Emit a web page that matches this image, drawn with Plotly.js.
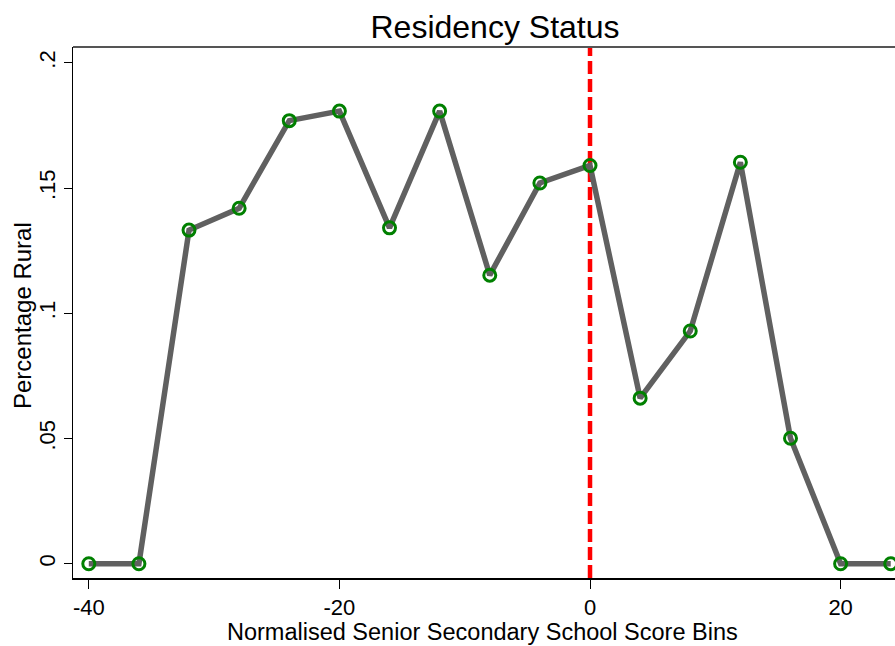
<!DOCTYPE html>
<html>
<head>
<meta charset="utf-8">
<script src="https://cdn.plot.ly/plotly-3.0.1.min.js"></script>
<style>
html, body { margin: 0; padding: 0; overflow: hidden; background: #fff; }
#chart { width: 1150px; height: 646px; }
</style>
</head>
<body>
<div id="chart"></div>
<script>
const scoreBins = [-40, -36, -32, -28, -24, -20, -16, -12, -8, -4, 0, 4, 8, 12, 16, 20, 24];
const pctRural = [0, 0, 0.1332, 0.1419, 0.1769, 0.1807, 0.1341, 0.1807, 0.1152, 0.152, 0.159, 0.0661, 0.0929, 0.1603, 0.0501, 0, 0];
const xTickVals = [-40, -20, 0, 20];
const xTickText = ['-40', '-20', '0', '20'];
const yTickVals = [0, 0.05, 0.1, 0.15, 0.2];
const yTickText = ['0', '.05', '.1', '.15', '.2'];
const cutoff = 0;
const titleText = 'Residency Status';
const xTitle = 'Normalised Senior Secondary School Score Bins';
const yTitle = 'Percentage Rural';

const W = 1150, H = 646;
const font = 'Liberation Sans, Arial, sans-serif';

const trace = {
  x: scoreBins,
  y: pctRural,
  type: 'scatter',
  mode: 'lines+markers',
  line: { color: '#606060', width: 5.5 },
  marker: { symbol: 'circle-open', size: 12, color: '#008000', line: { width: 3, color: '#008000' } },
  hoverinfo: 'x+y'
};

const layout = {
  width: W,
  height: H,
  margin: { l: 73, r: 0, t: 47, b: 68 },
  paper_bgcolor: '#ffffff',
  plot_bgcolor: '#ffffff',
  showlegend: false,
  font: { family: font, color: '#000' },
  title: {
    text: titleText,
    font: { size: 32, family: font, color: '#000' },
    xref: 'container', yref: 'container',
    x: 495 / W, xanchor: 'center',
    y: 1 - 27 / H, yanchor: 'middle'
  },
  xaxis: {
    range: [-41.26, 44.69],
    tickvals: xTickVals,
    ticktext: xTickText,
    ticks: 'outside', ticklen: 9, tickwidth: 1, tickcolor: '#000',
    showgrid: false, zeroline: false,
    showline: true, linecolor: '#000', linewidth: 1.5,
    tickfont: { size: 22, family: font, color: '#000' }
  },
  yaxis: {
    range: [-0.0057, 0.2063],
    tickvals: yTickVals,
    ticktext: yTickText,
    tickangle: -90,
    ticks: 'outside', ticklen: 8, tickwidth: 1, tickcolor: '#000',
    showgrid: false, zeroline: false,
    showline: true, linecolor: '#000', linewidth: 1.5,
    tickfont: { size: 22, family: font, color: '#000' }
  },
  shapes: [
    {
      type: 'line', xref: 'x', yref: 'paper',
      x0: cutoff, x1: cutoff, y0: 0, y1: 1,
      line: { color: '#ff0000', width: 4.5, dash: '13px,5px' },
      layer: 'below'
    },
    {
      type: 'line', xref: 'paper', yref: 'paper',
      x0: 0, x1: 1, y0: 1, y1: 1,
      line: { color: '#555555', width: 2 }
    }
  ],
  annotations: [
    {
      text: xTitle, showarrow: false,
      xref: 'paper', yref: 'paper',
      x: (482 - 73) / 1077, y: -(632 - 578) / 531,
      xanchor: 'center', yanchor: 'middle',
      font: { size: 23.5, family: font, color: '#000' }
    },
    {
      text: yTitle, showarrow: false, textangle: -90,
      xref: 'paper', yref: 'paper',
      x: (22 - 73) / 1077, y: (578 - 316) / 531,
      xanchor: 'center', yanchor: 'middle',
      font: { size: 24, family: font, color: '#000' }
    }
  ]
};

Plotly.newPlot('chart', [trace], layout, { displayModeBar: false, staticPlot: true });
</script>
</body>
</html>
